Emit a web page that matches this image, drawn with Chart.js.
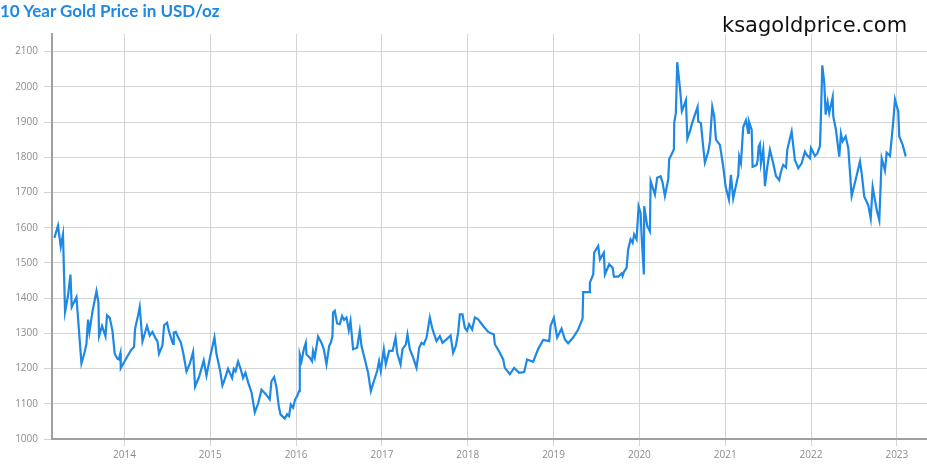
<!DOCTYPE html>
<html>
<head>
<meta charset="utf-8">
<title>10 Year Gold Price in USD/oz</title>
<script src="https://cdn.jsdelivr.net/npm/chart.js@4.4.0/dist/chart.umd.min.js"></script>
<style>
  html, body { margin: 0; padding: 0; background: #fff; }
  #wrap { position: relative; width: 927px; height: 465px; overflow: hidden; }
  #title { position: absolute; left: 0; top: -1px; font: 700 17px Lato, sans-serif; color: #1e88e5; line-height: 24px; white-space: nowrap; }
  #site { position: absolute; left: 722px; top: 12px; font: 21px "DejaVu Sans", sans-serif; color: #111; line-height: 26px; white-space: nowrap; }
  canvas { position: absolute; left: 0; top: 0; }
</style>
</head>
<body>
<div id="wrap">
  <canvas id="goldChart" width="927" height="465"></canvas>
  <div id="title">10 Year Gold Price in USD/oz</div>
  <div id="site">ksagoldprice.com</div>
</div>
<script>
// DATA (decimal year -> USD/oz)
const years = [
  2013.184, 2013.226, 2013.258, 2013.284, 2013.308, 2013.343, 2013.371, 2013.386, 2013.441, 2013.499,
  2013.537, 2013.557, 2013.576, 2013.592, 2013.627, 2013.674, 2013.697, 2013.704, 2013.739, 2013.779,
  2013.797, 2013.829, 2013.860, 2013.887, 2013.918, 2013.934, 2013.953, 2013.957, 2014.023, 2014.082,
  2014.112, 2014.124, 2014.159, 2014.178, 2014.210, 2014.263, 2014.295, 2014.326, 2014.365, 2014.385,
  2014.403, 2014.443, 2014.462, 2014.497, 2014.516, 2014.536, 2014.551, 2014.566, 2014.575, 2014.598,
  2014.625, 2014.656, 2014.683, 2014.723, 2014.761, 2014.800, 2014.823, 2014.869, 2014.924, 2014.956,
  2014.994, 2015.049, 2015.072, 2015.111, 2015.142, 2015.169, 2015.207, 2015.254, 2015.274, 2015.294,
  2015.324, 2015.352, 2015.382, 2015.410, 2015.441, 2015.480, 2015.519, 2015.557, 2015.597, 2015.655,
  2015.693, 2015.713, 2015.744, 2015.772, 2015.798, 2015.818, 2015.868, 2015.895, 2015.918, 2015.938,
  2015.965, 2015.988, 2016.012, 2016.035, 2016.043, 2016.063, 2016.090, 2016.113, 2016.121, 2016.160,
  2016.186, 2016.198, 2016.218, 2016.256, 2016.296, 2016.323, 2016.354, 2016.385, 2016.404, 2016.424,
  2016.431, 2016.451, 2016.478, 2016.509, 2016.536, 2016.559, 2016.587, 2016.614, 2016.634, 2016.664,
  2016.711, 2016.742, 2016.762, 2016.801, 2016.839, 2016.871, 2016.906, 2016.944, 2016.967, 2016.987,
  2017.022, 2017.045, 2017.084, 2017.124, 2017.159, 2017.177, 2017.217, 2017.240, 2017.279, 2017.298,
  2017.325, 2017.364, 2017.403, 2017.434, 2017.462, 2017.488, 2017.520, 2017.558, 2017.590, 2017.636,
  2017.675, 2017.706, 2017.753, 2017.800, 2017.830, 2017.861, 2017.888, 2017.908, 2017.939, 2017.966,
  2017.993, 2018.016, 2018.051, 2018.083, 2018.121, 2018.180, 2018.238, 2018.304, 2018.316, 2018.374,
  2018.413, 2018.432, 2018.491, 2018.541, 2018.599, 2018.657, 2018.692, 2018.762, 2018.821, 2018.879,
  2018.949, 2018.965, 2019.003, 2019.042, 2019.093, 2019.132, 2019.170, 2019.228, 2019.287, 2019.338,
  2019.345, 2019.415, 2019.423, 2019.462, 2019.473, 2019.520, 2019.540, 2019.586, 2019.598, 2019.648,
  2019.688, 2019.703, 2019.753, 2019.793, 2019.804, 2019.819, 2019.851, 2019.869, 2019.897, 2019.921,
  2019.939, 2019.967, 2019.991, 2020.014, 2020.026, 2020.052, 2020.056, 2020.091, 2020.122, 2020.131,
  2020.181, 2020.207, 2020.247, 2020.270, 2020.297, 2020.336, 2020.347, 2020.402, 2020.406, 2020.425,
  2020.441, 2020.472, 2020.495, 2020.510, 2020.542, 2020.559, 2020.589, 2020.608, 2020.647, 2020.678,
  2020.685, 2020.717, 2020.737, 2020.763, 2020.802, 2020.822, 2020.849, 2020.872, 2020.892, 2020.938,
  2020.977, 2021.005, 2021.043, 2021.066, 2021.093, 2021.152, 2021.163, 2021.183, 2021.210, 2021.241,
  2021.268, 2021.276, 2021.308, 2021.319, 2021.366, 2021.378, 2021.389, 2021.404, 2021.416, 2021.443,
  2021.463, 2021.490, 2021.521, 2021.559, 2021.591, 2021.629, 2021.649, 2021.676, 2021.708, 2021.723,
  2021.746, 2021.774, 2021.812, 2021.851, 2021.890, 2021.929, 2021.949, 2021.987, 2021.999, 2022.045,
  2022.072, 2022.104, 2022.115, 2022.131, 2022.154, 2022.170, 2022.193, 2022.212, 2022.252, 2022.259,
  2022.290, 2022.329, 2022.348, 2022.368, 2022.403, 2022.434, 2022.473, 2022.523, 2022.570, 2022.590,
  2022.620, 2022.667, 2022.695, 2022.718, 2022.765, 2022.795, 2022.823, 2022.861, 2022.881, 2022.920,
  2022.958, 2022.978, 2023.016, 2023.028, 2023.068, 2023.103
];
const prices = [
  1571, 1606, 1546, 1581, 1361, 1408, 1467, 1375, 1403, 1215,
  1247, 1270, 1339, 1304, 1361, 1420, 1387, 1292, 1321, 1292,
  1351, 1344, 1308, 1242, 1228, 1226, 1244, 1201, 1230, 1254,
  1261, 1313, 1351, 1375, 1277, 1321, 1294, 1304, 1285, 1277,
  1242, 1266, 1323, 1330, 1308, 1292, 1280, 1270, 1302, 1304,
  1289, 1275, 1247, 1192, 1213, 1247, 1149, 1176, 1223, 1180,
  1228, 1289, 1242, 1199, 1152, 1170, 1199, 1173, 1199, 1192,
  1220, 1201, 1173, 1188, 1161, 1133, 1076, 1100, 1140, 1125,
  1112, 1164, 1176, 1146, 1093, 1070, 1058, 1070, 1065, 1098,
  1089, 1112, 1122, 1136, 1240, 1221, 1255, 1273, 1240, 1231,
  1221, 1250, 1231, 1291, 1273, 1255, 1212, 1264, 1273, 1292,
  1359, 1364, 1328, 1326, 1349, 1338, 1345, 1309, 1335, 1255,
  1259, 1307, 1264, 1226, 1188, 1136, 1164, 1193, 1221, 1193,
  1255, 1212, 1250, 1250, 1288, 1245, 1212, 1255, 1269, 1297,
  1255, 1231, 1202, 1259, 1273, 1269, 1288, 1345, 1311, 1278,
  1292, 1273, 1283, 1294, 1245, 1264, 1302, 1354, 1354, 1316,
  1307, 1326, 1311, 1345, 1340, 1321, 1304, 1297, 1269, 1245,
  1226, 1202, 1184, 1202, 1188, 1190, 1226, 1219, 1256, 1281,
  1278, 1321, 1344, 1288, 1313, 1283, 1272, 1288, 1311, 1342,
  1417, 1417, 1444, 1467, 1529, 1548, 1510, 1529, 1467, 1496,
  1486, 1461, 1461, 1470, 1463, 1474, 1486, 1538, 1567, 1557,
  1581, 1567, 1661, 1642, 1576, 1467, 1661, 1605, 1590, 1732,
  1694, 1742, 1746, 1728, 1690, 1737, 1794, 1822, 1898, 1926,
  2070, 1998, 1931, 1940, 1962, 1853, 1874, 1892, 1921, 1943,
  1902, 1897, 1845, 1785, 1816, 1845, 1943, 1916, 1850, 1835,
  1773, 1716, 1680, 1750, 1683, 1750, 1802, 1783, 1886, 1905,
  1869, 1902, 1878, 1773, 1778, 1792, 1830, 1838, 1783, 1823,
  1718, 1773, 1821, 1783, 1747, 1735, 1759, 1778, 1771, 1821,
  1845, 1873, 1792, 1769, 1783, 1816, 1807, 1797, 1826, 1804,
  1810, 1832, 1916, 2061, 2011, 1921, 1957, 1926, 1971, 1916,
  1878, 1802, 1867, 1845, 1859, 1826, 1690, 1740, 1788, 1754,
  1688, 1664, 1626, 1716, 1650, 1621, 1797, 1762, 1813, 1804,
  1902, 1964, 1930, 1859, 1835, 1802
];
const yearLabels = ['2014', '2015', '2016', '2017', '2018', '2019', '2020', '2021', '2022', '2023'];
const priceTicks = [1000, 1100, 1200, 1300, 1400, 1500, 1600, 1700, 1800, 1900, 2000, 2100];

function drawGoldChart() {
  const points = years.map((y, i) => ({ x: y, y: prices[i] }));
  const tickFont = { family: 'Open Sans', size: 10 };

  const data = {
    datasets: [{
      label: 'Gold Price (USD/oz)',
      data: points,
      borderColor: '#1e88e5',
      borderWidth: 2.2,
      pointRadius: 0,
      tension: 0,
      fill: false
    }]
  };

  const config = {
    type: 'line',
    data: data,
    options: {
      responsive: false,
      animation: false,
      devicePixelRatio: 1,
      layout: { padding: { top: 34, right: 0, left: 0, bottom: 0 } },
      plugins: {
        legend: { display: false },
        tooltip: { enabled: false },
        title: { display: false }
      },
      scales: {
        x: {
          type: 'linear',
          min: 2013.156,
          max: 2023.351,
          afterBuildTicks: (scale) => {
            scale.ticks = yearLabels.map(l => ({ value: Number(l) }));
          },
          afterFit: (scale) => { scale.height = 26; },
          ticks: {
            autoSkip: false,
            maxRotation: 0,
            padding: 3,
            color: '#8c8c8c',
            font: tickFont,
            callback: (v, i) => yearLabels[i]
          },
          grid: { color: '#d4d4d4', lineWidth: 1, tickLength: 7 },
          border: { color: '#a0a0a0', width: 2 }
        },
        y: {
          min: 1000,
          max: 2150,
          afterBuildTicks: (scale) => {
            scale.ticks = priceTicks.map(v => ({ value: v }));
          },
          afterFit: (scale) => { scale.width = 52; },
          ticks: {
            padding: 6,
            color: '#8c8c8c',
            font: tickFont,
            callback: (v) => String(v)
          },
          grid: { color: '#d4d4d4', lineWidth: 1, tickLength: 8 },
          border: { color: '#a0a0a0', width: 2 }
        }
      }
    }
  };

  var myChart = new Chart(
    document.getElementById('goldChart'),
    config
  );
}

drawGoldChart();
</script>
</body>
</html>
